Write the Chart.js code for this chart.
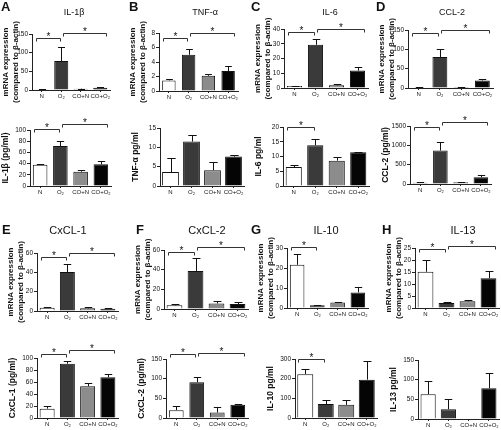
<!DOCTYPE html>
<html>
<head>
<meta charset="utf-8">
<script src="https://cdn.jsdelivr.net/npm/chart.js@4.4.0/dist/chart.umd.min.js"></script>
<style>
  html, body { margin: 0; padding: 0; background: #fff; overflow: hidden; }
  body { width: 501px; height: 430px; position: relative; font-family: 'Liberation Sans', Arial, sans-serif; color: #111; }
  canvas { position: absolute; }
  .letter { position: absolute; font-weight: bold; font-size: 13px; line-height: 1; color: #111; will-change: transform; }
  .title { position: absolute; width: 80px; text-align: center; line-height: 1; white-space: nowrap; color: #111; will-change: transform; }
</style>
</head>
<body>
<script>
const groups = ['N', 'O₂', 'CO+N', 'CO+O₂'];

// mRNA expression (compared to β-actin)
const il1bMrna = [2, 77.5, 3.5, 6];
const il1bMrnaErr = [2.5, 114, 4, 8];
const tnfMrna = [1.46, 5.0, 2.1, 2.75];
const tnfMrnaErr = [1.62, 5.75, 2.33, 3.4];
const il6Mrna = [1.4, 29.3, 1.8, 11.8];
const il6MrnaErr = [1.6, 33.2, 2.4, 14.5];
const ccl2Mrna = [1.5, 80, 2.5, 19.5];
const ccl2MrnaErr = [2, 102, 3, 23];
const cxcl1Mrna = [3.4, 40.3, 2.8, 2.4];
const cxcl1MrnaErr = [4.6, 48.8, 4.2, 3.3];
const cxcl2Mrna = [3.7, 38.7, 5.7, 5];
const cxcl2MrnaErr = [5.2, 51.5, 8.3, 7.3];
const il10Mrna = [21.6, 1.35, 2.7, 7.8];
const il10MrnaErr = [27, 1.7, 3, 10.3];
const il13Mrna = [15.1, 2.1, 2.8, 12.4];
const il13MrnaErr = [20, 2.4, 3.4, 15.5];

// protein, pg/ml
const il1bProt = [37.8, 71.5, 25.5, 38.8];
const il1bProtErr = [40, 80, 28.5, 44.5];
const tnfProt = [3.6, 11.5, 4.1, 7.6];
const tnfProtErr = [7.3, 13.2, 6.2, 8.1];
const il6Prot = [6.4, 13.8, 8.6, 11.4];
const il6ProtErr = [7, 16.1, 10, 11.6];
const ccl2Prot = [30, 865, 48, 175];
const ccl2ProtErr = [45, 1095, 58, 235];
const cxcl1Prot = [15.6, 90.5, 53, 68];
const cxcl1ProtErr = [19.5, 95.5, 58.5, 73];
const cxcl2Prot = [20, 91, 14, 34];
const cxcl2ProtErr = [29.5, 105.5, 28, 35];
const il10Prot = [223, 71, 67, 195];
const il10ProtErr = [248, 92, 89, 288];
const il13Prot = [63, 25, 0, 78];
const il13ProtErr = [97, 52, null, 116];

// significance brackets: [from group, to group, level in axis units]
const il1bMrnaSig = [[0, 1, 140], [1, 3, 152]];
const tnfMrnaSig = [[0, 1, 7.3], [1, 3, 8]];
const il6MrnaSig = [[0, 1, 37.8], [1, 3, 40]];
const ccl2MrnaSig = [[0, 1, 141], [1, 3, 150]];
const il1bProtSig = [[0, 1, 101.5], [1, 3, 110.5]];
const tnfProtSig = [];
const il6ProtSig = [[0, 1, 20]];
const ccl2ProtSig = [[0, 1, 1466], [1, 3, 1610]];
const cxcl1MrnaSig = [[0, 1, 55.5], [1, 3, 60]];
const cxcl2MrnaSig = [[0, 1, 58.3], [1, 3, 63]];
const il10MrnaSig = [[0, 1, 30.7]];
const il13MrnaSig = [[0, 1, 24.4], [1, 3, 26]];
const cxcl1ProtSig = [[0, 1, 106], [1, 3, 113]];
const cxcl2ProtSig = [[0, 1, 162], [1, 3, 164]];
const il10ProtSig = [[0, 1, 300]];
const il13ProtSig = [];

const mrnaTitle = ['mRNA expression', '(compared to β-actin)'];
const barColors = ['#ffffff', '#3a3a3a', '#8c8c8c', '#050505'];
const font = "'Liberation Sans', Arial, sans-serif";

// at: [y axis x, y of max, y of zero, plot width]
const panels = [
  { values: il1bMrna, errors: il1bMrnaErr, sig: il1bMrnaSig, max: 150, step: 50, yTitle: mrnaTitle, at: [32, 34, 90, 78], barPct: 0.72 },
  { values: tnfMrna, errors: tnfMrnaErr, sig: tnfMrnaSig, max: 8, step: 2, yTitle: mrnaTitle, at: [159, 33, 91, 79], barPct: 0.68 },
  { values: il6Mrna, errors: il6MrnaErr, sig: il6MrnaSig, max: 40, step: 10, yTitle: mrnaTitle, at: [284, 29, 88, 84], barPct: 0.72 },
  { values: ccl2Mrna, errors: ccl2MrnaErr, sig: ccl2MrnaSig, max: 150, step: 50, yTitle: mrnaTitle, at: [408, 30, 88, 85], barPct: 0.7 },
  { values: il1bProt, errors: il1bProtErr, sig: il1bProtSig, max: 100, step: 20, yTitle: 'IL-1β (pg/ml)', at: [30, 130, 186, 81], barPct: 0.72 },
  { values: tnfProt, errors: tnfProtErr, sig: tnfProtSig, max: 15, step: 5, yTitle: 'TNF-α pg/ml', at: [160, 128, 186, 84], barPct: 0.8 },
  { values: il6Prot, errors: il6ProtErr, sig: il6ProtSig, max: 20, step: 5, yTitle: 'IL-6 pg/ml', at: [283, 127, 186, 86], barPct: 0.75 },
  { values: ccl2Prot, errors: ccl2ProtErr, sig: ccl2ProtSig, max: 1500, step: 500, yTitle: 'CCL-2 (pg/ml)', at: [410, 126, 184, 81], barPct: 0.72 },
  { values: cxcl1Mrna, errors: cxcl1MrnaErr, sig: cxcl1MrnaSig, max: 60, step: 20, yTitle: mrnaTitle, at: [37, 253, 311, 81], barPct: 0.74 },
  { values: cxcl2Mrna, errors: cxcl2MrnaErr, sig: cxcl2MrnaSig, max: 60, step: 20, yTitle: mrnaTitle, at: [164, 250, 309, 84], barPct: 0.75 },
  { values: il10Mrna, errors: il10MrnaErr, sig: il10MrnaSig, max: 30, step: 10, yTitle: mrnaTitle, at: [287, 248, 308, 81], barPct: 0.72 },
  { values: il13Mrna, errors: il13MrnaErr, sig: il13MrnaSig, max: 25, step: 5, yTitle: mrnaTitle, at: [415, 248, 308, 84], barPct: 0.75 },
  { values: cxcl1Prot, errors: cxcl1ProtErr, sig: cxcl1ProtSig, max: 100, step: 20, yTitle: 'CxCL-1 (pg/ml)', at: [37, 358, 418, 81], barPct: 0.74 },
  { values: cxcl2Prot, errors: cxcl2ProtErr, sig: cxcl2ProtSig, max: 150, step: 50, yTitle: 'CxCL-2 (pg/ml)', at: [166, 359, 418, 82], barPct: 0.72 },
  { values: il10Prot, errors: il10ProtErr, sig: il10ProtSig, max: 300, step: 100, yTitle: 'IL-10 pg/ml', at: [295, 359, 418, 82], barPct: 0.78 },
  { values: il13Prot, errors: il13ProtErr, sig: il13ProtSig, max: 150, step: 50, yTitle: 'IL-13 pg/ml', at: [418, 360, 419, 81], barPct: 0.75 }
];

// panel letters and gene names
const letters = [['A', 1, 0], ['B', 129, 0], ['C', 251, 0], ['D', 376, 0], ['E', 2, 223], ['F', 136, 223], ['G', 251, 223], ['H', 382, 223]];
const titles = [['IL-1β', 74, 7.5, 9], ['TNF-α', 205, 7.5, 9], ['IL-6', 330, 7.5, 9], ['CCL-2', 452, 7.5, 9],
                ['CxCL-1', 68, 225, 11], ['CxCL-2', 207, 225, 11], ['IL-10', 326, 225, 11], ['IL-13', 463, 225, 11]];

letters.forEach(([t, x, y]) => {
    const d = document.createElement('div');
    d.className = 'letter';
    d.textContent = t;
    d.style.left = x + 'px';
    d.style.top = y + 'px';
    document.body.appendChild(d);
});
titles.forEach(([t, x, y, s]) => {
    const d = document.createElement('div');
    d.className = 'title';
    d.textContent = t;
    d.style.left = (x - 40) + 'px';
    d.style.top = y + 'px';
    d.style.fontSize = s + 'px';
    document.body.appendChild(d);
});

// error bars (upper only) and significance brackets
const marks = {
    id: 'marks',
    afterDatasetsDraw(chart, args, opts) {
        const ctx = chart.ctx;
        const y = chart.scales.y;
        const bars = chart.getDatasetMeta(0).data;
        ctx.save();
        ctx.strokeStyle = '#111';
        ctx.lineWidth = 1;
        opts.errors.forEach((e, i) => {
            if (e == null) return;
            const b = bars[i];
            const cx = Math.round(b.x) + 0.5;
            const yt = Math.round(y.getPixelForValue(e)) + 0.5;
            const cap = b.width / 4;
            ctx.beginPath();
            ctx.moveTo(cx, b.y);
            ctx.lineTo(cx, yt);
            ctx.moveTo(cx - cap, yt);
            ctx.lineTo(cx + cap, yt);
            ctx.stroke();
        });
        ctx.strokeStyle = '#333';
        ctx.fillStyle = '#111';
        ctx.font = '10px ' + font;
        ctx.textAlign = 'center';
        ctx.textBaseline = 'alphabetic';
        opts.sig.forEach(([i, j, level]) => {
            const a = bars[i], b = bars[j];
            const x1 = Math.round(i === 1 ? a.x + 1.5 : a.x - a.width / 2 + 1) + 0.5;
            const x2 = Math.round(j === 1 ? b.x - 1.5 : b.x + b.width / 2 - 1) + 0.5;
            const yy = Math.round(y.getPixelForValue(level)) + 0.5;
            ctx.beginPath();
            ctx.moveTo(x1, yy + 3);
            ctx.lineTo(x1, yy);
            ctx.lineTo(x2, yy);
            ctx.lineTo(x2, yy + 3);
            ctx.stroke();
            ctx.fillText('*', (x1 + x2) / 2, yy + 1);
        });
        ctx.restore();
    }
};

panels.forEach(p => {
    const [axisX, topY, zeroY, w] = p.at;
    const twoLine = Array.isArray(p.yTitle);
    const yw = twoLine ? 34 : 31;
    const padTop = 24, padRight = 4, xh = 14;
    const canvas = document.createElement('canvas');
    canvas.width = yw + w + padRight;
    canvas.height = padTop + (zeroY - topY) + xh;
    canvas.style.left = (axisX - yw) + 'px';
    canvas.style.top = (topY - padTop) + 'px';
    document.body.appendChild(canvas);

    new Chart(canvas, {
        type: 'bar',
        data: {
            labels: groups,
            datasets: [{
                data: p.values,
                backgroundColor: barColors,
                borderColor: '#111',
                borderWidth: 1,
                barPercentage: p.barPct,
                categoryPercentage: 1
            }]
        },
        options: {
            responsive: false,
            animation: false,
            layout: { padding: { top: padTop, right: padRight, left: 0, bottom: 0 } },
            plugins: {
                legend: { display: false },
                tooltip: { enabled: false },
                marks: { errors: p.errors, sig: p.sig }
            },
            scales: {
                x: {
                    grid: { drawOnChartArea: false, offset: false, tickLength: 2, color: '#222' },
                    border: { color: '#222' },
                    ticks: { font: { family: font, size: 6 }, color: '#111', padding: 1, maxRotation: 0, minRotation: 0, autoSkip: false },
                    afterFit: s => { s.height = xh; }
                },
                y: {
                    min: 0,
                    max: p.max,
                    ticks: { stepSize: p.step, font: { family: font, size: 6.5 }, color: '#111', padding: 1, callback: v => String(v) },
                    grid: { drawOnChartArea: false, tickLength: 3, color: '#222' },
                    border: { color: '#222' },
                    title: {
                        display: true,
                        text: p.yTitle,
                        color: '#111',
                        font: { family: font, size: twoLine ? 8 : 8.5, weight: 'bold', lineHeight: 1.25 },
                        padding: { top: twoLine ? 3 : 1, bottom: 0 }
                    },
                    afterFit: s => { s.width = yw; }
                }
            }
        },
        plugins: [marks]
    });
});
</script>
</body>
</html>
